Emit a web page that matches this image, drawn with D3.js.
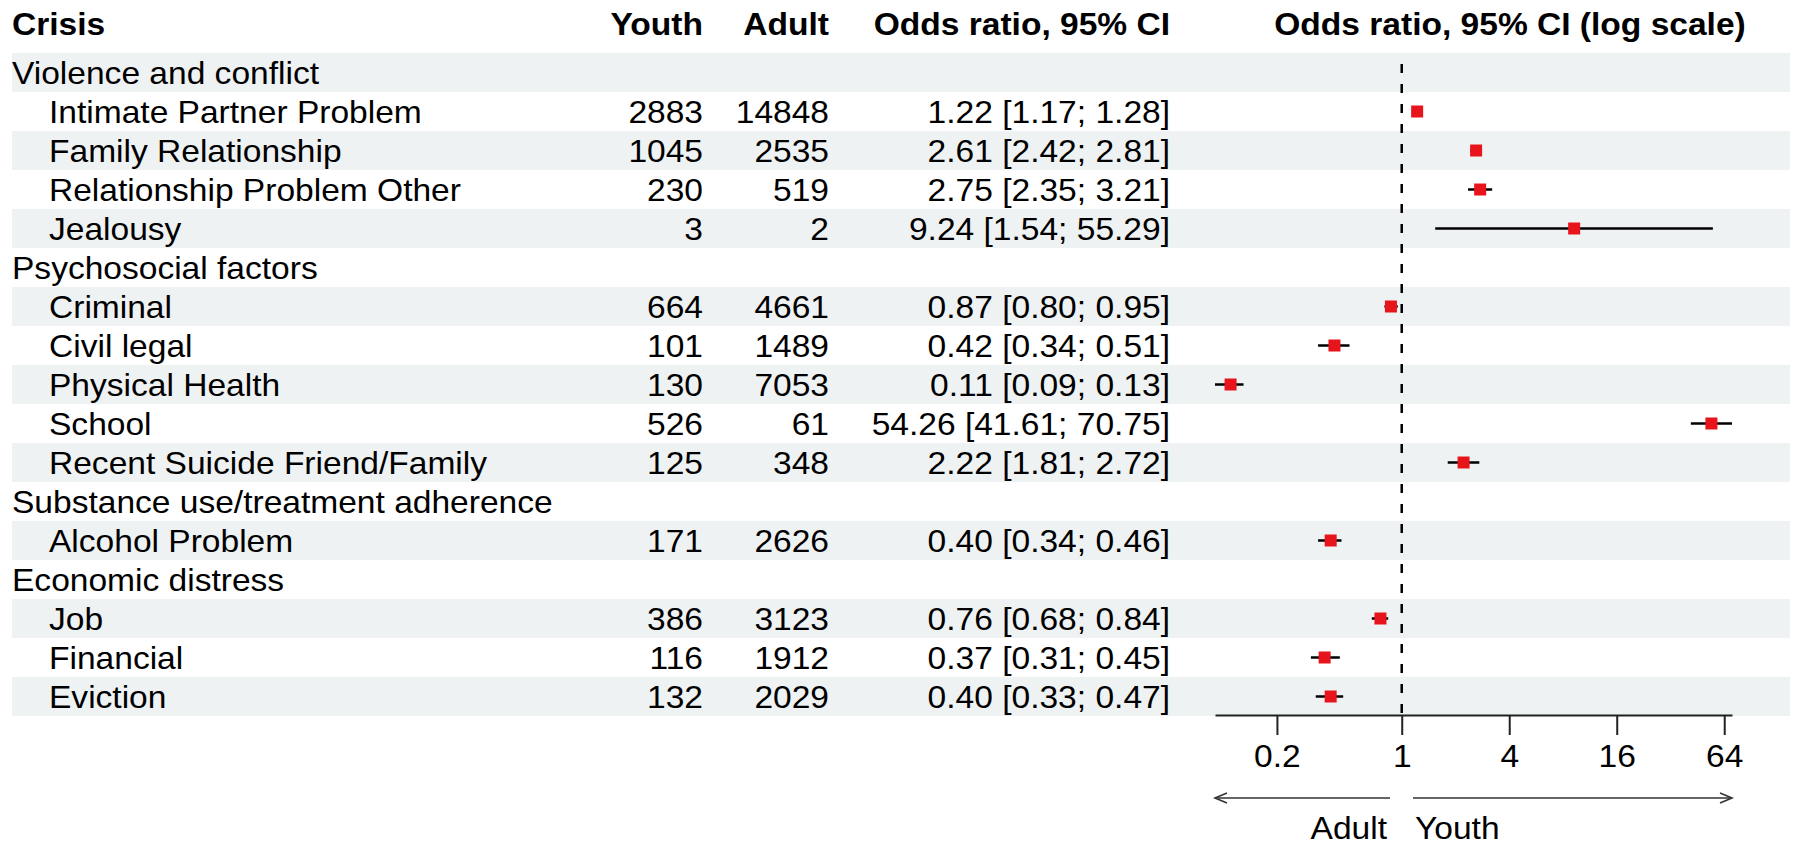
<!DOCTYPE html>
<html>
<head>
<meta charset="utf-8">
<script src="https://cdn.jsdelivr.net/npm/d3@7"></script>
<style>
  html, body { margin: 0; padding: 0; background: #fff; }
  svg { display: block; }
  text { font-family: "Liberation Sans", Arial, Helvetica, sans-serif; fill: #000; }
</style>
</head>
<body>
<svg id="chart" width="1800" height="851"></svg>
<script>
// ---------------- data ----------------
const groups = ["Violence and conflict", "Psychosocial factors", "Substance use/treatment adherence", "Economic distress"];
const crisis = ["Intimate Partner Problem", "Family Relationship", "Relationship Problem Other", "Jealousy",
  "Criminal", "Civil legal", "Physical Health", "School", "Recent Suicide Friend/Family",
  "Alcohol Problem", "Job", "Financial", "Eviction"];
const crisisGroup = [0, 0, 0, 0, 1, 1, 1, 1, 1, 2, 3, 3, 3];
const youth = [2883, 1045, 230, 3, 664, 101, 130, 526, 125, 171, 386, 116, 132];
const adult = [14848, 2535, 519, 2, 4661, 1489, 7053, 61, 348, 2626, 3123, 1912, 2029];
const oddsRatio = [1.22, 2.61, 2.75, 9.24, 0.87, 0.42, 0.11, 54.26, 2.22, 0.40, 0.76, 0.37, 0.40];
const ciLower = [1.17, 2.42, 2.35, 1.54, 0.80, 0.34, 0.09, 41.61, 1.81, 0.34, 0.68, 0.31, 0.33];
const ciUpper = [1.28, 2.81, 3.21, 55.29, 0.95, 0.51, 0.13, 70.75, 2.72, 0.46, 0.84, 0.45, 0.47];
const tickValues = [0.2, 1, 4, 16, 64];
const headers = ["Crisis", "Youth", "Adult", "Odds ratio, 95% CI", "Odds ratio, 95% CI (log scale)"];
const directionLabels = ["Adult", "Youth"];

// ---------------- layout ----------------
const FS = 30.5, SX = 1.1;
const svg = d3.select("#chart");

// build rows
const rows = [];
let lastG = -1;
crisis.forEach((c, i) => {
  if (crisisGroup[i] !== lastG) {
    lastG = crisisGroup[i];
    rows.push({ type: "group", label: groups[lastG] });
  }
  rows.push({ type: "item", label: c, youth: youth[i], adult: adult[i], or: oddsRatio[i], lo: ciLower[i], hi: ciUpper[i] });
});

const y = d3.scaleBand().domain(d3.range(rows.length)).range([53, 716]).padding(0);
const x = d3.scaleLog().domain([d3.min(ciLower), d3.max(ciUpper)]).range([1215, 1732]);

function txt(g, px, py, s, anchor, bold, size) {
  return g.append("text")
    .attr("transform", `translate(${px},${py}) scale(${SX},1)`)
    .attr("text-anchor", anchor || "start")
    .style("font-size", (size || FS) + "px")
    .style("font-weight", bold ? "bold" : "normal")
    .text(s);
}

// bands
const bandG = svg.append("g");
rows.forEach((r, i) => {
  if (i % 2 === 0) {
    bandG.append("rect")
      .attr("x", 12).attr("y", y(i))
      .attr("width", 1778).attr("height", y.bandwidth())
      .attr("fill", "#eff2f3");
  }
});

// headers
const hy = 35;
const hg = svg.append("g");
txt(hg, 12, hy, headers[0], "start", true);
txt(hg, 703, hy, headers[1], "end", true);
txt(hg, 829, hy, headers[2], "end", true);
txt(hg, 1170, hy, headers[3], "end", true);
txt(hg, 1510, hy, headers[4], "middle", true);

// table text
const tg = svg.append("g");
const f2 = d3.format(".2f");
rows.forEach((r, i) => {
  const by = y(i) + y.bandwidth() / 2 + 11;
  if (r.type === "group") {
    txt(tg, 12, by, r.label, "start", false);
  } else {
    txt(tg, 49, by, r.label, "start", false);
    txt(tg, 703, by, r.youth, "end", false);
    txt(tg, 829, by, r.adult, "end", false);
    txt(tg, 1170, by, `${f2(r.or)} [${f2(r.lo)}; ${f2(r.hi)}]`, "end", false);
  }
});

// reference line
svg.append("line")
  .attr("x1", x(1)).attr("x2", x(1))
  .attr("y1", 64).attr("y2", 715)
  .attr("stroke", "#000").attr("stroke-width", 2.5)
  .attr("stroke-dasharray", "9,11");

// CIs and points
const pg = svg.append("g");
rows.forEach((r, i) => {
  if (r.type !== "item") return;
  const cy = y(i) + y.bandwidth() / 2;
  pg.append("line")
    .attr("x1", x(r.lo)).attr("x2", x(r.hi))
    .attr("y1", cy).attr("y2", cy)
    .attr("stroke", "#000").attr("stroke-width", 2.5);
  pg.append("rect")
    .attr("x", x(r.or) - 6).attr("y", cy - 6)
    .attr("width", 12).attr("height", 12)
    .attr("fill", "#e8141c");
});

// axis
const axisG = svg.append("g")
  .attr("transform", "translate(0,715)")
  .call(d3.axisBottom(x).tickValues(tickValues).tickFormat(d => d).tickSize(20).tickSizeOuter(0));
axisG.select(".domain").attr("stroke", "#222").attr("stroke-width", 2);
axisG.selectAll(".tick line").attr("stroke", "#222").attr("stroke-width", 2);
axisG.selectAll(".tick text")
  .attr("y", 0).attr("dy", 0)
  .attr("transform", `translate(0,52) scale(${SX},1)`)
  .attr("fill", "#000")
  .style("font-size", FS + "px")
  .style("font-family", '"Liberation Sans", Arial, Helvetica, sans-serif');

// direction arrows
const ag = svg.append("g");
const ay = 798;
const xl0 = x.range()[0], xr1 = x.range()[1];
ag.append("line").attr("x1", xl0).attr("x2", 1390).attr("y1", ay).attr("y2", ay)
  .attr("stroke", "#333").attr("stroke-width", 1.6);
ag.append("path").attr("d", `M${xl0 + 12},${ay - 5}L${xl0},${ay}L${xl0 + 12},${ay + 5}`)
  .attr("fill", "none").attr("stroke", "#333").attr("stroke-width", 1.6);
ag.append("line").attr("x1", 1413).attr("x2", xr1).attr("y1", ay).attr("y2", ay)
  .attr("stroke", "#333").attr("stroke-width", 1.6);
ag.append("path").attr("d", `M${xr1 - 12},${ay - 5}L${xr1},${ay}L${xr1 - 12},${ay + 5}`)
  .attr("fill", "none").attr("stroke", "#333").attr("stroke-width", 1.6);
txt(ag, 1387, 839, directionLabels[0], "end", false);
txt(ag, 1415, 839, directionLabels[1], "start", false);
</script>
</body>
</html>
